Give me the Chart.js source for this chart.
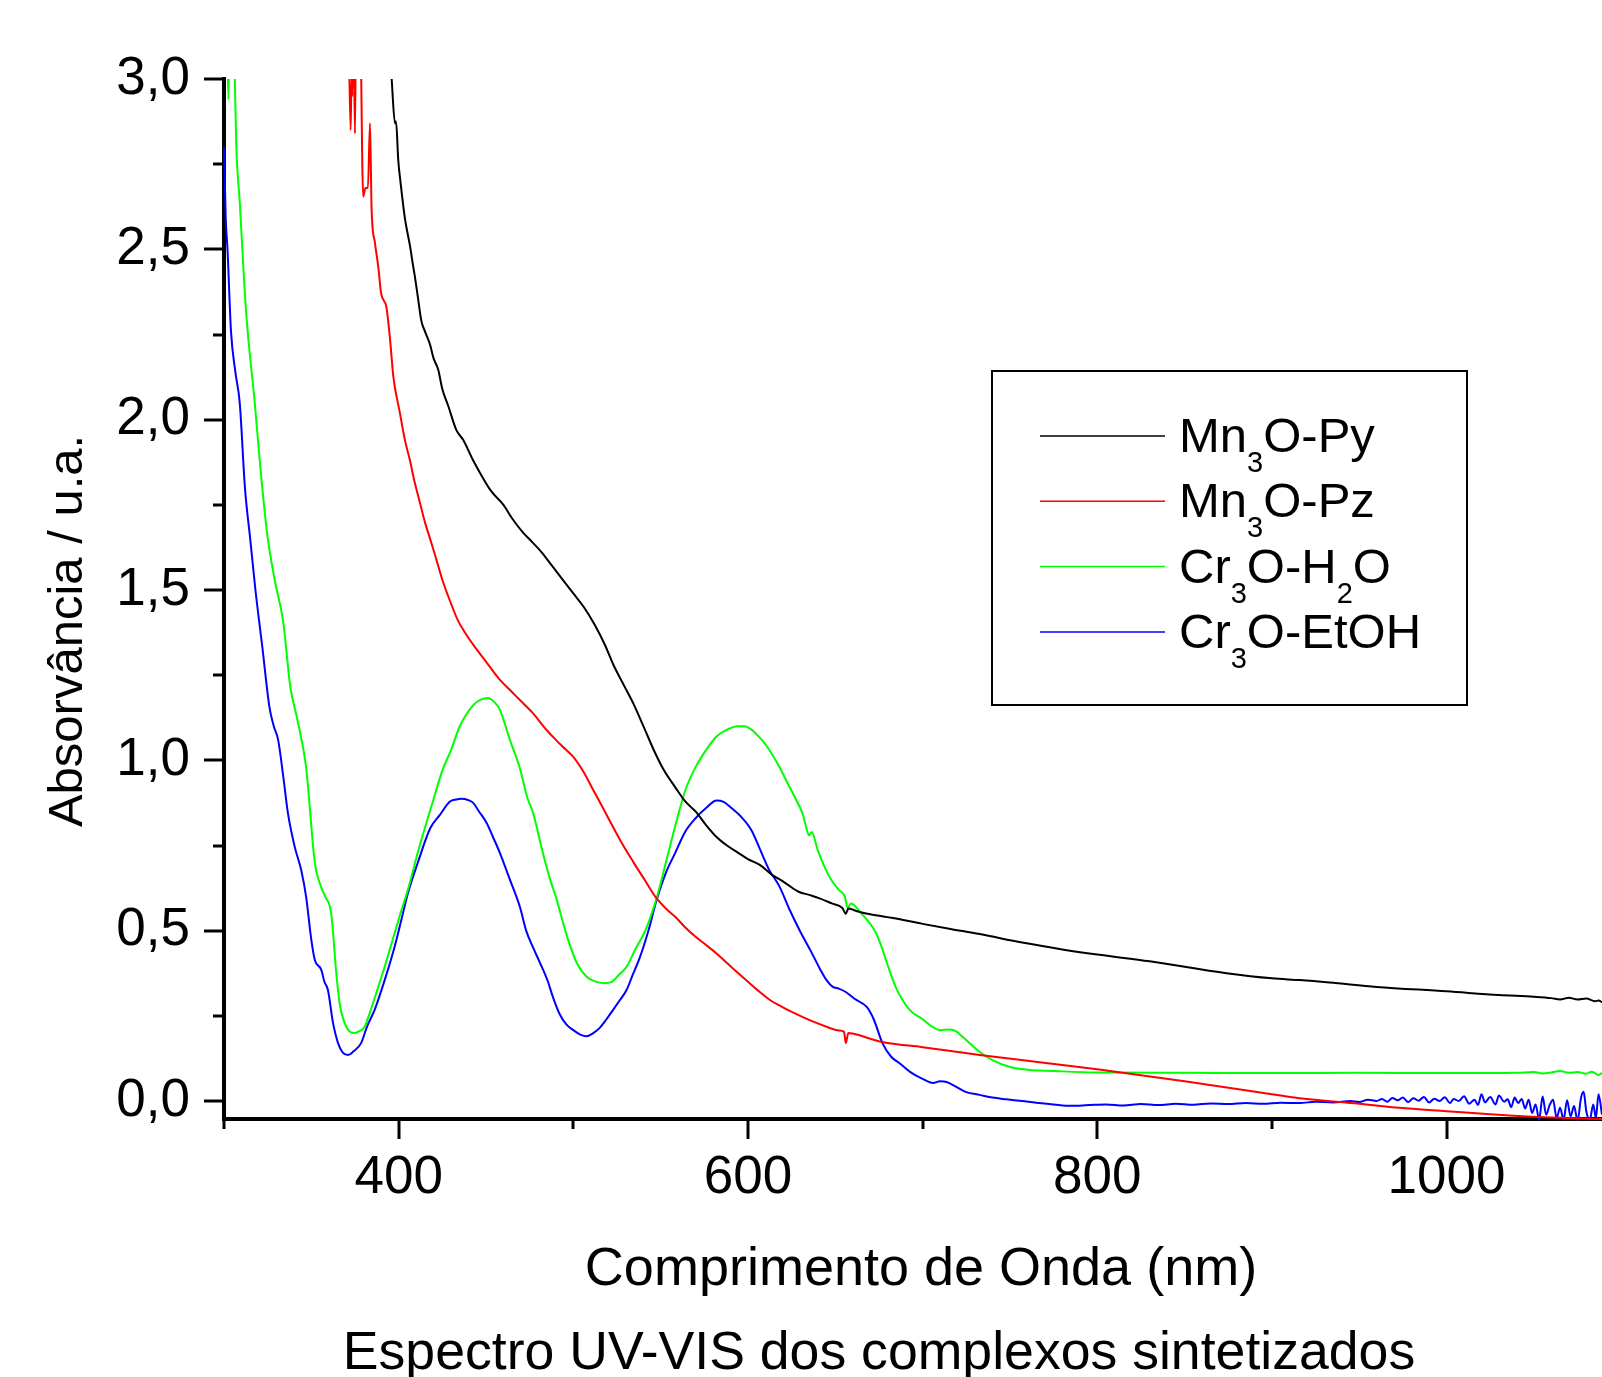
<!DOCTYPE html>
<html><head><meta charset="utf-8">
<script src="https://cdn.jsdelivr.net/npm/chart.js@4"></script>
<style>html,body{margin:0;padding:0;background:#fff;overflow:hidden}canvas{display:block}</style>
</head><body>
<canvas id="c" width="1602" height="1377"></canvas>
<script>
// ---------- data (wavelength nm, absorbance) ----------
const seriesLabels = ['Mn3O-Py', 'Mn3O-Pz', 'Cr3O-H2O', 'Cr3O-EtOH'];
const seriesColors = ['#000000', '#ff0000', '#00ff00', '#0000ff'];

const mn3oPy = [[394,3.15],[396,3.0],[397.9,2.87],[398.5,2.875],[399.8,2.76],[401,2.70],[403.6,2.59],[405,2.55],[406.5,2.51],[408,2.46],[409.3,2.42],[411,2.36],[413,2.29],[415,2.26],[418,2.22],[420,2.18],[422.7,2.146],[425,2.09],[428.4,2.04],[433,1.97],[437,1.94],[442.7,1.88],[447,1.84],[453,1.79],[460,1.75],[465,1.71],[471,1.67],[476.6,1.64],[482,1.61],[488,1.57],[494,1.53],[500,1.49],[506,1.45],[512,1.40],[518,1.34],[523,1.28],[529,1.22],[535,1.16],[541,1.09],[547,1.02],[552,0.97],[558.5,0.92],[564,0.88],[570,0.85],[576,0.81],[582,0.775],[588,0.75],[594,0.73],[600,0.71],[606.8,0.693],[614,0.663],[620,0.645],[628.7,0.615],[635,0.605],[641,0.595],[648,0.58],[654,0.567],[656,0.55],[657.5,0.565],[662,0.558],[670,0.548],[683,0.537],[700,0.52],[716,0.505],[732.7,0.49],[757,0.465],[780,0.445],[800,0.43],[830,0.41],[874,0.375],[900,0.36],[916,0.355],[933,0.348],[960,0.335],[1000,0.322],[1030,0.311],[1050,0.306],[1060,0.302],[1065,0.298],[1070,0.303],[1075,0.298],[1080,0.301],[1085,0.293],[1087,0.295],[1089,0.29]];

const mn3oPz = [[368,3.2],[371,3.2],[372.5,2.85],[373,3.0],[373.5,2.95],[374,3.2],[375,2.84],[375.6,3.2],[377.8,3.2],[379.7,2.655],[381,2.68],[382.4,2.68],[383.6,2.87],[384.5,2.62],[386.4,2.52],[388.3,2.45],[390,2.37],[393,2.33],[395,2.24],[397,2.125],[400.7,2.02],[403.6,1.94],[406.5,1.88],[409,1.82],[412,1.76],[415,1.70],[418,1.65],[421,1.60],[425,1.53],[430,1.46],[434,1.41],[438.6,1.37],[444,1.33],[450,1.29],[458,1.236],[465,1.20],[469.4,1.177],[476.6,1.14],[484.7,1.089],[490,1.06],[494,1.04],[500,1.01],[506,0.965],[511.4,0.913],[517,0.86],[522.7,0.805],[528,0.755],[534.3,0.702],[541,0.648],[547.5,0.596],[553,0.565],[558.5,0.54],[564,0.51],[570,0.482],[576,0.458],[582,0.433],[588,0.405],[594,0.377],[600,0.35],[606.8,0.32],[613,0.295],[620,0.275],[625.7,0.26],[635,0.238],[645,0.218],[652,0.207],[655,0.203],[656,0.17],[657.5,0.20],[660,0.198],[677,0.173],[700,0.158],[732.7,0.135],[760,0.118],[800,0.093],[850,0.058],[900,0.02],[916,0.008],[950,-0.008],[973,-0.02],[1000,-0.03],[1025,-0.039],[1049,-0.046],[1070,-0.05],[1089,-0.053]];

const cr3oH2O = [[300,3.2],[301.5,3.2],[302.5,2.94],[303.5,3.2],[305,3.2],[306,3.05],[307,2.81],[309,2.64],[312.6,2.32],[317.6,2.05],[321,1.85],[324.6,1.67],[329,1.53],[333.8,1.41],[338,1.215],[342,1.12],[347,0.98],[352,0.70],[355.5,0.63],[358,0.60],[361.4,0.55],[364.3,0.375],[366.2,0.287],[370,0.218],[374.8,0.20],[377.5,0.205],[380.5,0.218],[384.2,0.27],[388,0.33],[392,0.394],[397.7,0.493],[401,0.55],[405.3,0.62],[411,0.73],[419.8,0.883],[425,0.97],[430,1.03],[435,1.10],[442.7,1.162],[447,1.178],[451,1.183],[455,1.17],[458,1.148],[463.7,1.06],[469.4,0.977],[473.7,0.89],[477,0.845],[482.5,0.73],[486.6,0.652],[490,0.60],[496,0.49],[502,0.405],[507.6,0.365],[512,0.352],[517.5,0.346],[522,0.35],[526,0.37],[530.5,0.394],[535,0.44],[542,0.51],[548.5,0.61],[553,0.70],[558.5,0.81],[564,0.91],[570,0.98],[576,1.03],[582,1.07],[588,1.09],[594,1.10],[598,1.10],[602,1.09],[607,1.065],[611,1.04],[617,0.99],[623,0.93],[628,0.88],[631.5,0.84],[633.5,0.80],[635,0.78],[636.5,0.79],[640,0.736],[647,0.655],[652,0.62],[655.5,0.60],[657,0.567],[659,0.58],[665,0.55],[672.6,0.50],[676,0.46],[679,0.414],[685,0.33],[692.7,0.267],[700,0.24],[705,0.22],[710,0.208],[715.6,0.21],[719,0.205],[723,0.188],[728,0.165],[732.7,0.144],[740,0.12],[750,0.10],[760,0.092],[780,0.087],[800,0.084],[850,0.083],[900,0.082],[950,0.083],[1000,0.082],[1040,0.083],[1050,0.085],[1055,0.081],[1060,0.084],[1065,0.088],[1070,0.083],[1075,0.085],[1080,0.08],[1083,0.086],[1085,0.082],[1087,0.076],[1089,0.083]];

const cr3oEtOH = [[300,2.80],[301,2.59],[302,2.50],[304,2.26],[306.5,2.14],[309,2.05],[312,1.80],[315,1.65],[318,1.50],[322,1.33],[326,1.157],[328.5,1.10],[331,1.06],[334,0.95],[336.6,0.845],[340.5,0.746],[344.2,0.678],[347,0.60],[350,0.473],[352,0.414],[355.7,0.385],[357.5,0.35],[359.5,0.326],[362.4,0.23],[365.3,0.17],[368,0.142],[371,0.135],[374,0.145],[378.5,0.17],[382,0.22],[386.2,0.267],[392,0.355],[397.7,0.453],[401,0.52],[405.3,0.61],[411,0.70],[418,0.80],[423.6,0.84],[429.4,0.879],[433,0.885],[436,0.887],[440,0.883],[442.7,0.875],[446,0.85],[450.4,0.816],[454,0.775],[458,0.728],[463.7,0.65],[469.4,0.57],[473,0.50],[477,0.45],[481,0.405],[485.5,0.35],[488,0.31],[492,0.257],[496,0.225],[500,0.208],[504,0.195],[507.6,0.19],[511,0.198],[515,0.214],[519,0.24],[522.7,0.267],[526.5,0.295],[530.5,0.326],[534,0.37],[538,0.42],[543,0.50],[547.7,0.59],[553,0.67],[558.5,0.73],[564,0.79],[570,0.83],[576,0.86],[582,0.882],[586,0.878],[590.6,0.86],[596,0.835],[602,0.795],[606.8,0.74],[612,0.68],[618,0.63],[624,0.56],[629.7,0.50],[636,0.44],[641,0.39],[645,0.355],[648.6,0.335],[652,0.33],[656,0.32],[661,0.30],[668,0.276],[672,0.24],[677,0.17],[682,0.13],[687,0.11],[693,0.085],[700,0.065],[706,0.053],[710,0.058],[713.7,0.056],[718,0.045],[725,0.026],[732.7,0.018],[740,0.01],[748,0.005],[757,0.0],[765,-0.005],[775,-0.01],[785,-0.014],[795,-0.012],[805,-0.01],[815,-0.013],[825,-0.009],[835,-0.012],[845,-0.008],[855,-0.011],[865,-0.007],[875,-0.009],[885,-0.006],[895,-0.008],[905,-0.005],[916,-0.006],[925,-0.002],[935,-0.004],[945,0.0],[950,-0.003],[955,0.004],[960,0.0],[963,0.006],[966,-0.002],[969,0.009],[972,0.002],[975,0.01],[978,-0.003],[981,0.008],[984,0.001],[987,0.012],[990,-0.004],[993,0.007],[996,0.0],[999,0.011],[1002,-0.006],[1004,0.006],[1007,0.0],[1010,0.014],[1013,-0.008],[1016,0.004],[1018,-0.012],[1020,0.02],[1022,-0.004],[1025,0.012],[1028,-0.01],[1030,0.016],[1033,-0.002],[1035,0.005],[1037,-0.018],[1039,0.01],[1041,-0.006],[1043,0.006],[1045,-0.022],[1047,0.004],[1049,-0.035],[1051,-0.01],[1053,-0.055],[1055,0.013],[1057,-0.04],[1059,-0.012],[1061,0.004],[1063,-0.05],[1065,-0.02],[1067,-0.055],[1069,0.002],[1071,-0.045],[1073,-0.015],[1075,-0.058],[1077,0.01],[1078.5,0.027],[1080,-0.03],[1082,-0.055],[1084,-0.01],[1085.5,-0.05],[1087,0.02],[1089,-0.04]];

const xTicks = [300, 400, 500, 600, 700, 800, 900, 1000];
const xTickLabels = {400: '400', 600: '600', 800: '800', 1000: '1000'};
const yTicks = [0, 0.25, 0.5, 0.75, 1.0, 1.25, 1.5, 1.75, 2.0, 2.25, 2.5, 2.75, 3.0];
const yTickLabels = {'0': '0,0', '0.5': '0,5', '1': '1,0', '1.5': '1,5', '2': '2,0', '2.5': '2,5', '3': '3,0'};
const xTitle = 'Comprimento de Onda (nm)';
const yTitle = 'Absorvância / u.a.';
const chartTitle = 'Espectro UV-VIS dos complexos sintetizados';

const FONT = "'Liberation Sans', Arial, Helvetica, sans-serif";
const series = [mn3oPy, mn3oPz, cr3oH2O, cr3oEtOH];

function drawRich(ctx, text, x, y, size, subSize, subDy) {
  const parts = text.match(/\d+|[^\d]+/g);
  let cx = x;
  for (const p of parts) {
    const isSub = /^\d+$/.test(p);
    ctx.font = (isSub ? subSize : size) + 'px ' + FONT;
    ctx.fillText(p, cx, isSub ? y + subDy : y);
    cx += ctx.measureText(p).width;
  }
}

const decor = {
  id: 'decor',
  afterDraw(chart) {
    const {ctx, chartArea: a, scales: {x, y}} = chart;
    ctx.save();
    ctx.strokeStyle = '#000';
    ctx.lineWidth = 3;
    ctx.lineCap = 'butt';
    yTicks.forEach(v => {
      const py = Math.round(y.getPixelForValue(v));
      const L = yTickLabels[String(v)] ? 20 : 11;
      ctx.beginPath(); ctx.moveTo(a.left - L, py); ctx.lineTo(a.left - 1, py); ctx.stroke();
    });
    xTicks.forEach(v => {
      const px = Math.round(x.getPixelForValue(v));
      const L = xTickLabels[v] ? 20 : 10;
      ctx.beginPath(); ctx.moveTo(px, a.bottom + 1); ctx.lineTo(px, a.bottom + L); ctx.stroke();
    });
    ctx.fillStyle = '#000';
    ctx.textAlign = 'center';
    ctx.textBaseline = 'alphabetic';
    ctx.font = '54px ' + FONT;
    ctx.fillText(xTitle, 921, 1285);
    ctx.font = '53.6px ' + FONT;
    ctx.fillText(chartTitle, 879, 1369);
    ctx.save();
    ctx.translate(82, 631);
    ctx.rotate(-Math.PI / 2);
    ctx.font = '49px ' + FONT;
    ctx.fillText(yTitle, 0, 0);
    ctx.restore();
    // legend
    ctx.strokeStyle = '#000';
    ctx.lineWidth = 2;
    ctx.strokeRect(992, 371, 475, 334);
    ctx.textAlign = 'left';
    chart.data.datasets.forEach((ds, i) => {
      const ry = 436 + i * 65.3;
      ctx.strokeStyle = ds.borderColor;
      ctx.lineWidth = 1.5;
      ctx.beginPath(); ctx.moveTo(1040, ry); ctx.lineTo(1165, ry); ctx.stroke();
      ctx.fillStyle = '#000';
      drawRich(ctx, ds.label, 1179, ry + 16, 49, 29, 20);
    });
    ctx.restore();
  }
};

new Chart(document.getElementById('c'), {
  type: 'scatter',
  data: {
    datasets: series.map((s, i) => ({
      label: seriesLabels[i],
      data: s.map(p => ({x: p[0], y: p[1]})),
      showLine: true,
      borderColor: seriesColors[i],
      backgroundColor: seriesColors[i],
      borderWidth: 2,
      pointRadius: 0,
      pointHoverRadius: 0,
      cubicInterpolationMode: 'monotone',
      clip: {left: 3, top: 0, right: 0, bottom: 2}
    }))
  },
  options: {
    responsive: false,
    animation: false,
    devicePixelRatio: 1,
    layout: {padding: {top: 79, left: 0, right: 0, bottom: 0}},
    plugins: {legend: {display: false}, tooltip: {enabled: false}, title: {display: false}},
    scales: {
      x: {
        type: 'linear', min: 300, max: 1089,
        afterFit: s => { s.height = 258; },
        afterBuildTicks: s => { s.ticks = xTicks.map(v => ({value: v})); },
        grid: {display: false, drawTicks: false},
        border: {display: true, color: '#000', width: 4},
        ticks: {callback: v => xTickLabels[v] || '', font: {size: 53, family: FONT}, color: '#000', padding: 28, maxRotation: 0, autoSkip: false}
      },
      y: {
        type: 'linear', min: -0.0528, max: 3.0,
        afterFit: s => { s.width = 224; },
        afterBuildTicks: s => { s.ticks = yTicks.map(v => ({value: v})); },
        grid: {display: false, drawTicks: false},
        border: {display: true, color: '#000', width: 4},
        ticks: {callback: v => yTickLabels[String(v)] || '', font: {size: 53, family: FONT}, color: '#000', padding: 34, autoSkip: false}
      }
    }
  },
  plugins: [decor]
});
</script>
</body></html>
